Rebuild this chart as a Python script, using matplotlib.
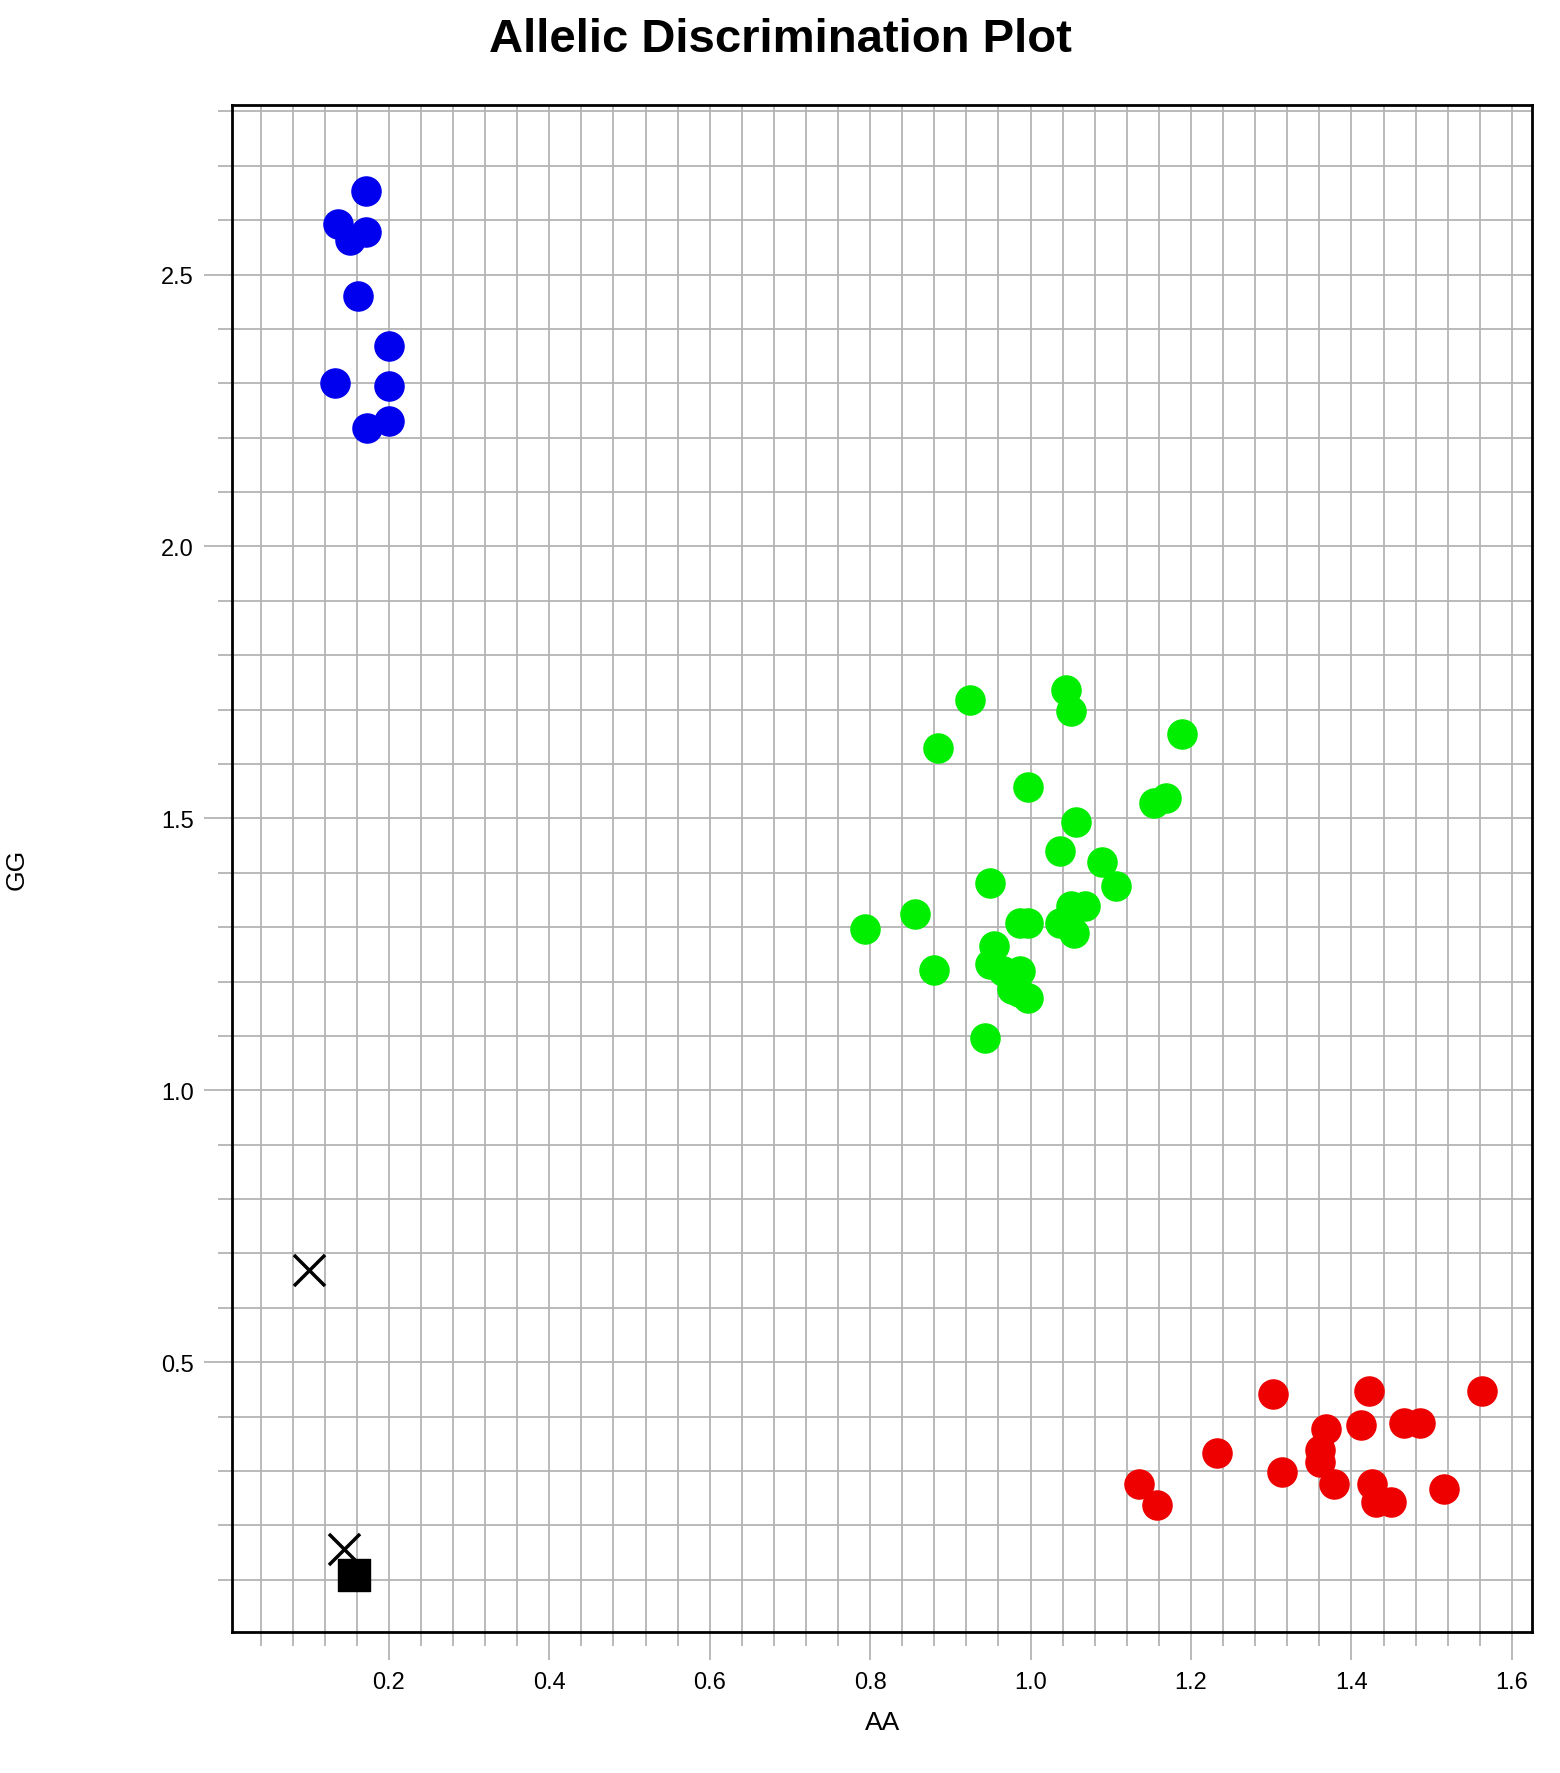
import numpy as np
import matplotlib
matplotlib.use('Agg')
import matplotlib.pyplot as plt
from matplotlib.ticker import MultipleLocator

# allele 2 homozygotes (blue)
gg_x = [0.171, 0.137, 0.152, 0.171, 0.162, 0.200, 0.133, 0.200, 0.173, 0.200]
gg_y = [2.654, 2.593, 2.564, 2.579, 2.461, 2.369, 2.301, 2.295, 2.218, 2.230]

# heterozygotes (green)
het_x = [0.793, 0.856, 0.880, 0.884, 0.925, 0.950, 0.943, 0.955, 0.949, 0.966,
         0.977, 0.987, 0.997, 0.987, 0.997, 0.997, 1.037, 1.044, 1.051, 1.057,
         1.037, 1.054, 1.051, 1.068, 1.089, 1.106, 1.154, 1.169, 1.189, 0.985]
het_y = [1.297, 1.324, 1.222, 1.629, 1.718, 1.382, 1.097, 1.266, 1.232, 1.220,
         1.187, 1.220, 1.170, 1.307, 1.307, 1.558, 1.440, 1.737, 1.697, 1.494,
         1.307, 1.290, 1.338, 1.338, 1.419, 1.376, 1.529, 1.537, 1.656, 1.180]

# allele 1 homozygotes (red)
aa_x = [1.135, 1.157, 1.232, 1.302, 1.314, 1.361, 1.361, 1.368, 1.378, 1.412,
        1.422, 1.426, 1.430, 1.449, 1.465, 1.485, 1.516, 1.563]
aa_y = [0.276, 0.237, 0.334, 0.442, 0.299, 0.338, 0.317, 0.378, 0.276, 0.384,
        0.448, 0.276, 0.243, 0.243, 0.388, 0.388, 0.266, 0.448]

# undetermined and no-template control
und_x = [0.100, 0.144]
und_y = [0.670, 0.156]
ntc_x = [0.157]
ntc_y = [0.108]

plt.rcParams['font.family'] = ['Liberation Sans', 'DejaVu Sans']

fig = plt.figure(figsize=(15.6, 17.74), dpi=100)
ax = fig.add_axes([0.149, 0.0795, 0.833, 0.8605])

ax.scatter(gg_x, gg_y, s=440, color='#0000ee', zorder=3)
ax.scatter(het_x, het_y, s=440, color='#00ee00', zorder=3)
ax.scatter(aa_x, aa_y, s=440, color='#ee0000', zorder=3)
ax.scatter(und_x, und_y, s=500, marker='x', color='black', linewidths=2.5, zorder=3)
ax.scatter(ntc_x, ntc_y, s=500, marker='s', color='black', zorder=3)

ax.set_xlim(0.005, 1.625)
ax.set_ylim(0.004, 2.811)

ax.xaxis.set_major_locator(MultipleLocator(0.2))
ax.xaxis.set_minor_locator(MultipleLocator(0.04))
ax.yaxis.set_major_locator(MultipleLocator(0.5))
ax.yaxis.set_minor_locator(MultipleLocator(0.1))
ax.grid(True, which='both', color='#b4b4b4', linewidth=1.3, zorder=0)
ax.set_axisbelow(True)

ax.tick_params(which='major', length=20, color='#b4b4b4', width=1.3, labelsize=17, pad=8)
ax.tick_params(which='minor', length=10, color='#b4b4b4', width=1.3)
for s in ax.spines.values():
    s.set_linewidth(2)

ax.set_xlabel('AA', fontsize=19, labelpad=12)
ax.set_ylabel('GG', fontsize=19, labelpad=95)
fig.suptitle('Allelic Discrimination Plot', fontsize=34, fontweight='bold', y=0.99)

fig.savefig('out.png', dpi=100)
